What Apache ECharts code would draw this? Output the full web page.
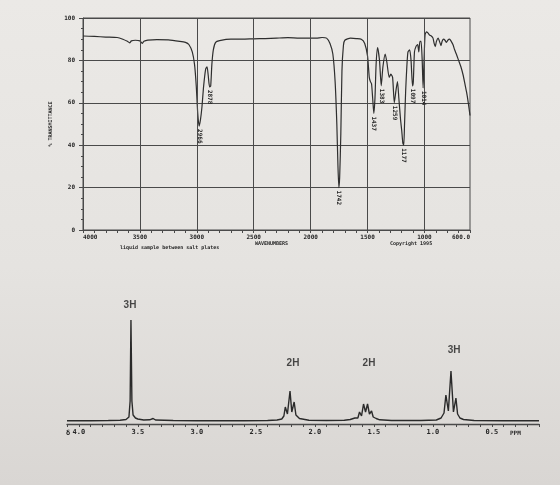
<!DOCTYPE html>
<html>
<head>
<meta charset="utf-8">
<script src="https://cdn.jsdelivr.net/npm/echarts@6/dist/echarts.min.js"></script>
<style>
  html, body { margin: 0; padding: 0; }
  body { background: linear-gradient(180deg, #ebe9e6 0%, #e5e3e0 55%, #d9d6d3 100%); }
  #chart { width: 560px; height: 485px; }
</style>
</head>
<body>
<div id="chart"></div>
<script>
// IR spectrum: wavenumber (cm-1) vs % transmittance
const irWavenumber = [4000, 3900, 3800, 3700, 3650, 3610, 3590, 3575, 3540, 3500, 3480, 3465, 3430, 3350, 3250, 3150, 3100, 3070, 3040, 3020, 3005, 2992, 2980, 2968, 2955, 2940, 2922, 2910, 2900, 2888, 2878, 2868, 2855, 2835, 2800, 2700, 2600, 2500, 2400, 2300, 2200, 2100, 2000, 1950, 1900, 1860, 1830, 1805, 1785, 1770, 1760, 1752, 1745, 1735, 1725, 1712, 1700, 1650, 1600, 1555, 1525, 1500, 1485, 1475, 1465, 1455, 1445, 1435, 1425, 1412, 1395, 1380, 1365, 1345, 1330, 1310, 1295, 1280, 1265, 1250, 1237, 1225, 1210, 1200, 1190, 1182, 1175, 1165, 1155, 1145, 1130, 1118, 1105, 1098, 1088, 1075, 1060, 1050, 1040, 1030, 1020, 1012, 1005, 995, 983, 970, 956, 940, 925, 915, 905, 895, 880, 865, 855, 845, 832, 820, 807, 795, 780, 765, 750, 735, 720, 700, 680, 660, 645, 630, 615, 600];
const irTransmittance = [91.5, 91.3, 91, 90.8, 90, 89, 88.3, 89.2, 89.5, 89.2, 88, 89, 89.6, 89.8, 89.7, 89, 88.5, 87.5, 84, 78, 68, 55, 49, 52, 58, 68, 76, 77, 73, 67.5, 68, 78, 85, 88.5, 89.3, 90, 90, 90.2, 90.3, 90.5, 90.7, 90.5, 90.5, 90.5, 90.8, 90.5, 88, 83, 70, 50, 30, 20, 25, 45, 75, 87, 89.5, 90.5, 90.3, 90, 88, 82, 72, 70, 69, 62, 55, 62, 78, 86, 80, 68, 77, 83, 79, 72, 73.5, 72, 60, 66, 70, 62, 52, 47, 41, 40, 50, 66, 77, 84, 85, 80, 68, 70, 84, 86.5, 87.5, 84, 89, 89, 80, 67, 78, 92, 93.5, 93, 92, 91.5, 90.5, 88, 86.5, 89, 90.5, 88.5, 87, 89, 90, 89.5, 88.5, 89.5, 90, 89, 87.5, 85, 83, 80, 77, 73, 69, 65, 60, 54];
const irPeakLabels = ['2966', '2878', '1742', '1437', '1383', '1259', '1177', '1097', '1014'];
const irPeakWavenumber = [2980, 2885, 1752, 1445, 1380, 1265, 1182, 1105, 1012];
const irPeakTransmittance = [49, 67.5, 20, 55, 68, 60, 40, 68, 67];
const irGridWavenumber = [3500, 3000, 2500, 2000, 1500, 1000];

// 1H NMR spectrum: chemical shift (ppm) vs intensity
const nmrPpm = [4.10, 3.90, 3.75, 3.65, 3.60, 3.575, 3.565, 3.558, 3.550, 3.54, 3.52, 3.50, 3.45, 3.40, 3.37, 3.35, 3.2, 3.0, 2.6, 2.4, 2.32, 2.28, 2.262, 2.25, 2.232, 2.21, 2.195, 2.175, 2.16, 2.13, 2.05, 1.90, 1.75, 1.70, 1.66, 1.646, 1.635, 1.621, 1.604, 1.587, 1.570, 1.553, 1.537, 1.519, 1.505, 1.494, 1.48, 1.45, 1.35, 1.1, 0.97, 0.93, 0.905, 0.889, 0.868, 0.846, 0.825, 0.804, 0.79, 0.77, 0.74, 0.65, 0.40, 0.10];
const nmrIntensity = [0.3, 0.3, 0.5, 0.8, 1.5, 4, 20, 101, 20, 6, 3, 2, 1, 1.2, 2.5, 1, 0.5, 0.3, 0.2, 0.5, 1, 2, 5, 14, 7, 30, 9, 19, 6, 2.5, 0.8, 0.5, 0.8, 1.5, 3, 5, 3, 9, 5, 17, 9, 17, 7, 10, 4, 5, 2.5, 1.2, 0.5, 0.5, 1, 3, 8, 26, 10, 50, 9, 23, 7, 3, 1.5, 0.5, 0.3, 0.3];
const integralText = ['3H', '2H', '2H', '3H'];
const integralPpm = [3.566, 2.185, 1.541, 0.82];

const chart = echarts.init(document.getElementById('chart'));

const mono = 'DejaVu Sans Mono';
const ink = '#262626';
const rule = '#4a4a4a';
const tinyLabel = { fontFamily: mono, fontSize: 6, fontWeight: 'bold', color: ink };

// label heights above the baseline for the integrals
const integralLevel = [116, 58, 58, 71];

const option = {
  backgroundColor: 'transparent',
  animation: false,
  grid: [
    { left: 83, right: 90, top: 18, bottom: 255, show: true, borderColor: rule, borderWidth: 1, backgroundColor: 'transparent' },
    { left: 67, right: 21, top: 301, bottom: 61 }
  ],
  xAxis: [
    {
      type: 'value', gridIndex: 0, inverse: true, min: 600, max: 4000, interval: 100,
      axisLine: { lineStyle: { color: rule, width: 1 } },
      axisTick: { length: 3, lineStyle: { color: rule } },
      splitLine: { show: false },
      axisLabel: Object.assign({}, tinyLabel, {
        margin: 4,
        alignMaxLabel: 'left',
        alignMinLabel: 'right',
        formatter: v => (v % 500 === 0 ? String(v) : (v === 600 ? '600.0' : ''))
      })
    },
    {
      type: 'value', gridIndex: 1, inverse: true, min: 0.1, max: 4.1, interval: 0.1,
      axisLine: { onZero: false, lineStyle: { color: rule, width: 1.3 } },
      axisTick: { length: 3, lineStyle: { color: rule } },
      splitLine: { show: false },
      axisLabel: {
        fontFamily: mono, fontSize: 7, fontWeight: 'bold', color: ink, margin: 5,
        formatter: v => {
          const h = v * 2;
          return Math.abs(h - Math.round(h)) < 1e-6 && v > 0.45 && v < 4.05 ? v.toFixed(1) : '';
        }
      }
    }
  ],
  yAxis: [
    {
      type: 'value', gridIndex: 0, min: 0, max: 100, interval: 20,
      name: '% TRANSMITTANCE', nameLocation: 'middle', nameGap: 25, nameRotate: 90,
      nameTextStyle: { fontFamily: mono, fontSize: 5, fontWeight: 'bold', color: ink },
      axisLine: { show: true, lineStyle: { color: rule } },
      axisTick: { show: true, length: 4, lineStyle: { color: rule } },
      minorTick: { show: true, splitNumber: 4, length: 2, lineStyle: { color: rule } },
      splitLine: { show: true, lineStyle: { color: rule, width: 1 } },
      axisLabel: Object.assign({}, tinyLabel, { margin: 8 })
    },
    { type: 'value', gridIndex: 1, min: -3, max: 120, show: false, splitLine: { show: false } }
  ],
  series: [
    {
      name: 'IR', type: 'line', xAxisIndex: 0, yAxisIndex: 0,
      data: irWavenumber.map((w, i) => [w, irTransmittance[i]]),
      showSymbol: false, smooth: 0.2,
      lineStyle: { color: '#2e2e2e', width: 1.2 },
      markLine: {
        silent: true, symbol: 'none', label: { show: false },
        lineStyle: { color: rule, width: 1, type: 'solid' },
        data: irGridWavenumber.map(w => ({ xAxis: w }))
      },
      markPoint: {
        silent: true, symbol: 'rect', symbolSize: 0,
        label: Object.assign({}, tinyLabel, {
          show: true, position: 'bottom', distance: 3, rotate: -90,
          align: 'left', verticalAlign: 'middle', formatter: '{b}'
        }),
        data: irPeakLabels.map((t, i) => ({ name: t, coord: [irPeakWavenumber[i], irPeakTransmittance[i]] }))
      }
    },
    {
      name: 'NMR', type: 'line', xAxisIndex: 1, yAxisIndex: 1,
      data: nmrPpm.map((p, i) => [p, nmrIntensity[i]]),
      showSymbol: false,
      lineStyle: { color: '#2a2a2a', width: 1.4 }
    },
    {
      name: 'integrals', type: 'scatter', xAxisIndex: 1, yAxisIndex: 1,
      symbolSize: 0, silent: true,
      label: {
        show: true, position: 'inside', formatter: '{b}',
        fontFamily: 'Liberation Sans', fontSize: 10, fontWeight: 'bold', color: '#1e1e1e'
      },
      data: integralText.map((t, i) => ({ name: t, value: [integralPpm[i], integralLevel[i]] }))
    }
  ],
  graphic: [
    { type: 'text', left: 255, top: 241, style: { text: 'WAVENUMBERS', font: 'bold 5px ' + mono, fill: ink } },
    { type: 'text', left: 120, top: 245, style: { text: 'liquid sample between salt plates', font: 'bold 5px ' + mono, fill: ink } },
    { type: 'text', left: 390, top: 241, style: { text: 'Copyright 1995', font: 'bold 5px ' + mono, fill: ink } },
    { type: 'text', left: 66, top: 430, style: { text: 'δ', font: 'bold 7px ' + mono, fill: ink } },
    { type: 'text', left: 510, top: 430, style: { text: 'PPM', font: 'bold 6px ' + mono, fill: ink } }
  ]
};

chart.setOption(option);
</script>
</body>
</html>
